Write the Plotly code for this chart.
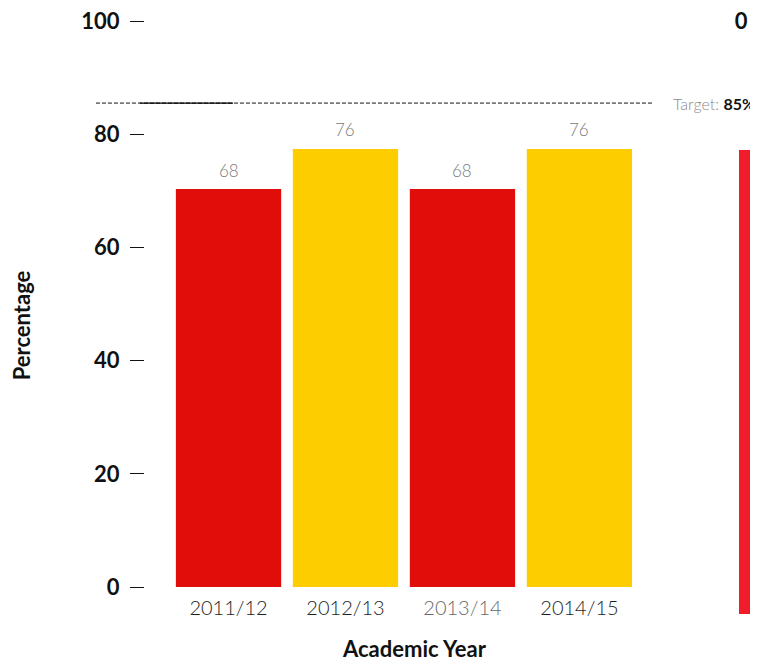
import plotly.graph_objects as go

years = ["2011/12", "2012/13", "2013/14", "2014/15"]
value_labels = [68, 76, 68, 76]
bar_heights = [70.3, 77.4, 70.3, 77.4]
bar_colors = ["#e00d0b", "#fdcd00", "#e00d0b", "#fdcd00"]
year_label_colors = ["#1e1e1e", "#1e1e1e", "#6a6a6a", "#1e1e1e"]
y_ticks = [0, 20, 40, 60, 80, 100]
target_value = 85
target_line_level = 85.5
side_bar_base = 22.8
side_bar_value = 82.0

FONT = "Lato"

fig = go.Figure()
fig.add_trace(go.Bar(
    x=list(range(len(years))), y=bar_heights,
    marker=dict(color=bar_colors, line=dict(width=0)),
    hoverinfo="skip", xaxis="x", yaxis="y",
))
fig.add_trace(go.Bar(
    x=[0.75], y=[side_bar_value], base=[side_bar_base], width=[0.5],
    marker=dict(color="#f01c2c", line=dict(width=0)),
    hoverinfo="skip", xaxis="x2", yaxis="y3",
))

annotations = []
for i, v in enumerate(value_labels):
    annotations.append(dict(
        x=i, y=bar_heights[i], xref="x", yref="y", text=str(v), showarrow=False,
        yanchor="middle", yshift=19,
        font=dict(family=FONT, size=17, color="#7a7a7a", weight=300),
    ))
annotations.append(dict(
    x=1.0, y=target_line_level, xref="paper", yref="y", xanchor="right", yanchor="middle",
    xshift=-1,
    text="Target: <b style='color:#111'>%d%%</b>" % target_value, showarrow=False,
    font=dict(family=FONT, size=16, color="#8a8a8a", weight=300),
))
annotations.append(dict(
    x=-0.2, y=0.509, xref="paper", yref="paper", text="<b>Percentage</b>",
    textangle=-90, showarrow=False, xanchor="center", yanchor="middle",
    font=dict(family=FONT, size=22, color="#111111"),
))
annotations.append(dict(
    x=0.439, y=-0.013, xref="paper", yref="paper", text="<b>Academic Year</b>",
    showarrow=False, xanchor="center", yanchor="middle",
    font=dict(family=FONT, size=22, color="#111111"),
))

shapes = [
    dict(type="line", xref="paper", yref="y", x0=-0.08, x1=0.827,
         y0=target_line_level, y1=target_line_level,
         line=dict(color="#111111", width=1, dash="4px,2px")),
    dict(type="line", xref="paper", yref="y", x0=-0.008, x1=0.1436,
         y0=target_line_level, y1=target_line_level,
         line=dict(color="#000000", width=1.2)),
]

fig.update_layout(
    width=758, height=664,
    margin=dict(l=137, r=8, t=13, b=32),
    paper_bgcolor="white", plot_bgcolor="white",
    showlegend=False, bargap=0.1,
    font=dict(family=FONT),
    xaxis=dict(
        domain=[0, 0.827], range=[-0.714, 3.62], anchor="y",
        tickvals=list(range(len(years))),
        ticktext=["<span style='color:%s'>%s</span>" % (c, t) for t, c in zip(years, year_label_colors)],
        tickfont=dict(family=FONT, size=20, color="#1e1e1e", weight=300),
        ticklabelstandoff=7, automargin=False,
        showgrid=False, zeroline=False, showline=False, ticks="",
    ),
    yaxis=dict(
        domain=[0.0856, 1], range=[0, 100], anchor="x",
        tickvals=y_ticks, ticks="outside", ticklen=14, tickwidth=1, tickcolor="#111111",
        tickfont=dict(family=FONT, size=22, color="#111111", weight=700),
        ticklabelstandoff=6, ticklabeloverflow="allow", automargin=False,
        showgrid=False, zeroline=False, showline=False,
    ),
    xaxis2=dict(domain=[0.938, 1], range=[0, 1], anchor="y3", visible=False, automargin=False),
    yaxis3=dict(
        domain=[0, 1], range=[109.4, 0], anchor="free", position=1, side="left",
        tickvals=[0], ticks="outside", ticklen=6, tickwidth=1, tickcolor="#111111",
        tickfont=dict(family=FONT, size=22, color="#111111", weight=700),
        ticklabeloverflow="allow", automargin=False,
        showgrid=False, zeroline=False, showline=False,
    ),
    annotations=annotations,
    shapes=shapes,
)

fig.write_html("out.html")
